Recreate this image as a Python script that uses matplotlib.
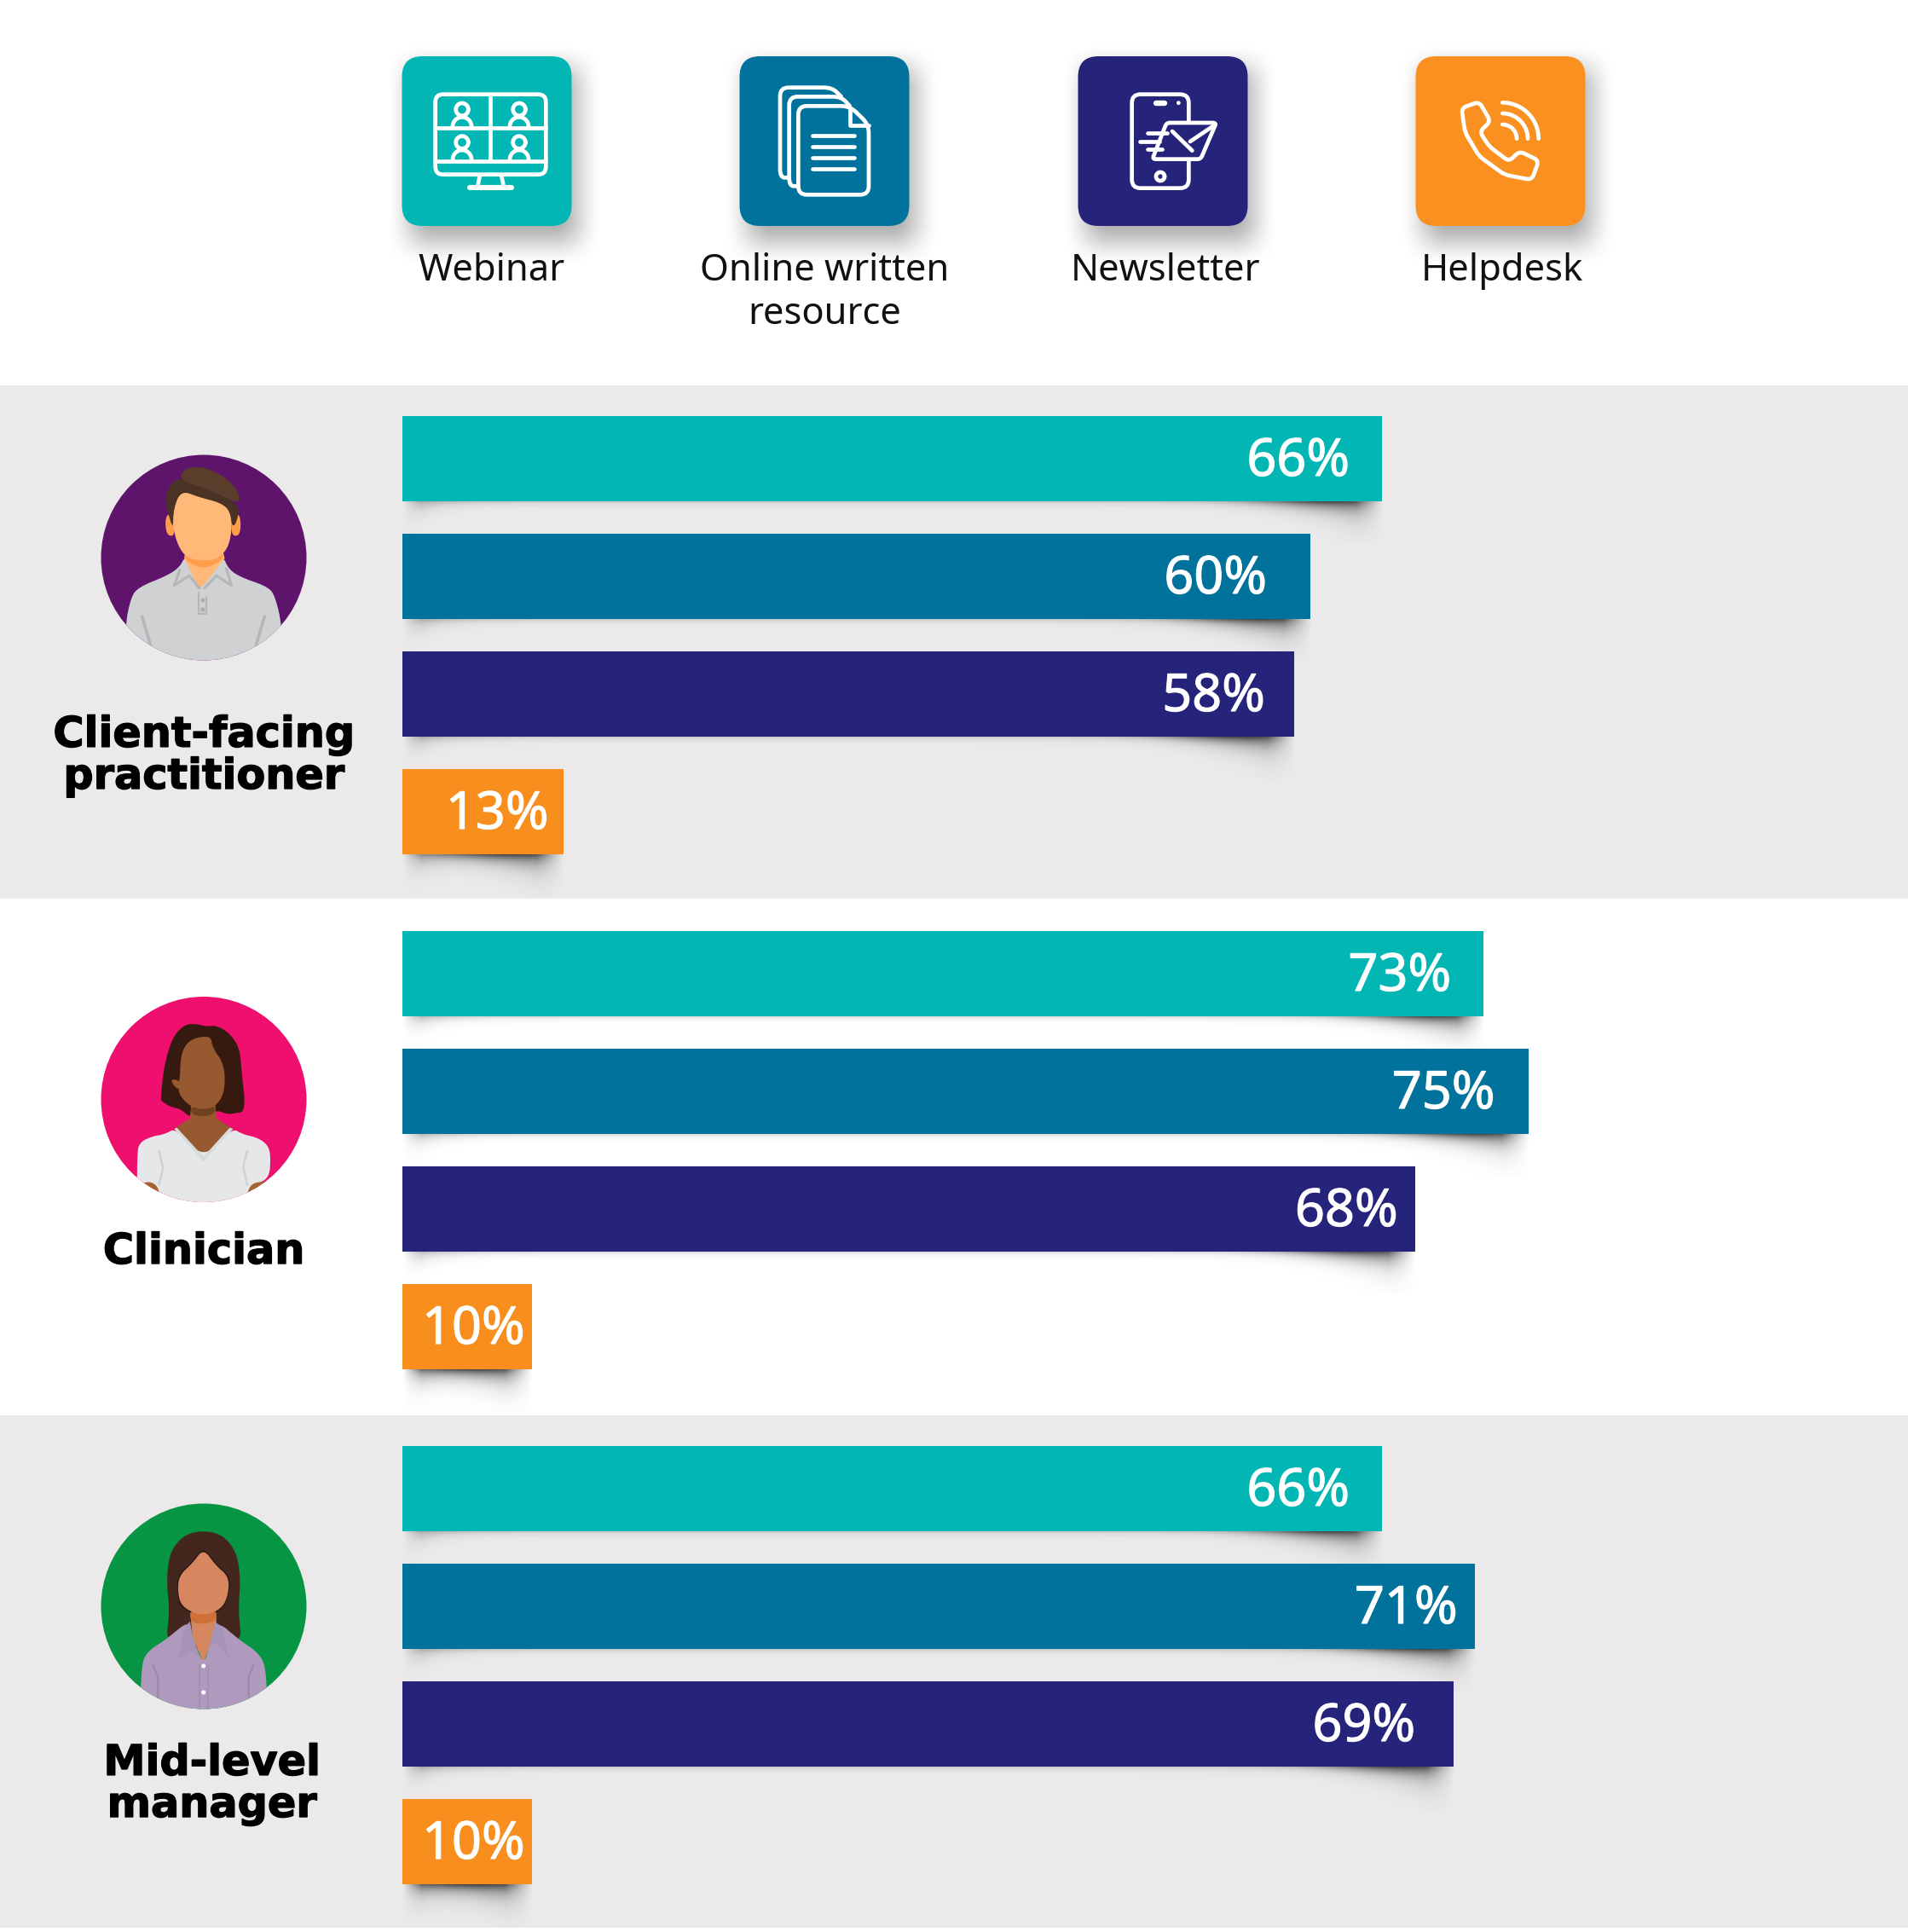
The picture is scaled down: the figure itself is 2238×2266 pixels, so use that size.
import numpy as np
import matplotlib
matplotlib.use("Agg")
import matplotlib.pyplot as plt
import matplotlib.patheffects as pe
from matplotlib.patches import Circle, FancyBboxPatch, Polygon, Ellipse
from matplotlib.path import Path
from matplotlib.patches import PathPatch

plt.rcParams['font.family'] = ['Noto Sans', 'DejaVu Sans']

# data
channels = ['Webinar', 'Online written\nresource', 'Newsletter', 'Helpdesk']
roles = ['Client-facing\npractitioner', 'Clinician', 'Mid-level\nmanager']
printed_client = [66, 60, 58, 13]
printed_clinician = [73, 75, 68, 10]
printed_manager = [66, 71, 69, 10]
# bar lengths as drawn; in the source they do not quite follow the printed numbers
bars_client = [65.7, 60.9, 59.8, 10.8]
bars_clinician = [72.5, 75.5, 67.9, 8.7]
bars_manager = [65.7, 71.9, 70.5, 8.7]

# layout, in pixels of the 2238x2266 picture
W, H = 2238, 2266
TEAL, BLUE, NAVY, ORANGE = '#02B6B4', '#01729B', '#25237A', '#F78E1E'
colors = [TEAL, BLUE, NAVY, ORANGE]
BAND = '#EBE9EA'
BAR_LEFT = 471.5
PX_PER_PCT = 17.5
BAR_STEP = 138
BAR_H = 100
panel_tops = [488, 1092, 1696]
pad_client = [38, 51, 34, 17]
pad_clinician = [38, 39, 20, 8]
pad_manager = [38, 20, 45, 8]
tile_lefts = [471.5, 867.5, 1264.5, 1660.5]
label_x = [576.5, 967, 1367, 1762]
LW = 3.4


def chaikin(pts, n=3):
    pts = np.asarray(pts, float)
    for _ in range(n):
        nxt = np.roll(pts, -1, axis=0)
        q = 0.75 * pts + 0.25 * nxt
        r = 0.25 * pts + 0.75 * nxt
        pts = np.stack([q, r], axis=1).reshape(-1, 2)
    return pts


def rounded(pts, r, closed=True):
    # polyline with corners cut by small quadratic curves
    pts = [np.array(p, float) for p in pts]
    n = len(pts)
    verts, codes = [], []
    rng = range(n) if closed else range(1, n - 1)
    if not closed:
        verts.append(pts[0]); codes.append(Path.MOVETO)
    for i in rng:
        p, a, b = pts[i], pts[i - 1], pts[(i + 1) % n]
        d1 = (a - p) / np.linalg.norm(a - p)
        d2 = (b - p) / np.linalg.norm(b - p)
        r1 = min(r, np.linalg.norm(a - p) / 2)
        r2 = min(r, np.linalg.norm(b - p) / 2)
        verts.append(p + d1 * r1)
        codes.append(Path.MOVETO if (closed and i == 0) else Path.LINETO)
        verts += [p, p + d2 * r2]
        codes += [Path.CURVE3, Path.CURVE3]
    if closed:
        verts.append(verts[0]); codes.append(Path.CLOSEPOLY)
    else:
        verts.append(pts[-1]); codes.append(Path.LINETO)
    return Path(verts, codes)


def soft_shadow(ax, x0, y0, x1, y1, blur, alpha):
    xs = np.arange(x0 - blur, x1 + blur)
    ys = np.arange(y0 - blur, y1 + blur)
    fx = np.clip((xs - x0) / blur + .5, 0, 1) * np.clip((x1 - xs) / blur + .5, 0, 1)
    fy = np.clip((ys - y0) / blur + .5, 0, 1) * np.clip((y1 - ys) / blur + .5, 0, 1)
    a = np.outer(fy * fy * (3 - 2 * fy), fx * fx * (3 - 2 * fx)) * alpha
    img = np.zeros(a.shape + (4,))
    img[..., 3] = a
    ax.imshow(img, extent=(xs[0], xs[-1], ys[-1], ys[0]), aspect='auto', zorder=2)


def lift_shadow(ax, x0, x1, y):
    # curled-corner shadow under a bar
    xs = np.arange(x0, x1)
    ys = np.arange(0, 50)
    X, Y = np.meshgrid(xs, ys)
    depth = 3 + 15 * np.exp(-(x1 - X) / 70) + 11 * np.exp(-(X - x0) / 30)
    strength = 0.14 + 0.55 * np.exp(-((x1 - X - 60) / 90) ** 2) + 0.22 * np.exp(-(X - x0) / 40)
    fade = np.clip((x1 - X) / 32, 0, 1) * np.clip((X - x0) / 22, 0, 1)
    img = np.zeros(X.shape + (4,))
    img[..., 3] = np.clip(strength * np.exp(-Y / depth) * fade, 0, 1)
    ax.imshow(img, extent=(x0, x1, y + 50, y), aspect='auto', zorder=2)


fig = plt.figure(figsize=(W / 100, H / 100), dpi=100, facecolor='white')
bg = fig.add_axes([0, 0, 1, 1])
bg.set_xlim(0, W)
bg.set_ylim(H, 0)
bg.axis('off')
bg.set_autoscale_on(False)

bg.fill_between([0, W], 452, 1054, color=BAND, lw=0, zorder=1)
bg.fill_between([0, W], 1660, 2261, color=BAND, lw=0, zorder=1)

# header tiles
tile_colors = [TEAL, BLUE, NAVY, '#FA9020']
for x, c, name, lx in zip(tile_lefts, tile_colors, channels, label_x):
    soft_shadow(bg, x + 8, 78, x + 199 + 8, 265 + 20, 58, 0.33)
    bg.add_patch(FancyBboxPatch((x, 66), 199, 199, boxstyle='round,pad=0,rounding_size=24',
                                fc=c, ec='none', zorder=3))
    base = 329 if '\n' not in name else 380
    bg.text(lx, base, name, ha='center', va='baseline', fontsize=31.3, color='#111111',
            linespacing=1.21, zorder=5)


def zx(ox, oy):
    return lambda pts: [(ox + p[0] / 3, oy + p[1] / 3) for p in pts]


def stroke(path_or_pts, conv=None, lw=LW):
    if conv is not None:
        p = np.array(conv(path_or_pts))
        bg.plot(p[:, 0], p[:, 1], color='white', lw=lw, solid_capstyle='round',
                solid_joinstyle='round', zorder=6)
    else:
        bg.add_patch(PathPatch(path_or_pts, fc='none', ec='white', lw=lw, joinstyle='round',
                               capstyle='round', zorder=6))


# webinar icon
c1 = zx(460, 60)
stroke(rounded(c1([(152, 152), (541, 152), (541, 434), (152, 434)]), 9))
stroke([(152, 270), (541, 270)], c1)
stroke([(152, 388), (541, 388)], c1)
stroke([(346, 152), (346, 388)], c1)
stroke([(308, 440), (300, 480)], c1)
stroke([(385, 440), (393, 480)], c1)
stroke([(272, 480), (420, 480)], c1, lw=4.4)
t = np.linspace(0, 2 * np.pi, 50)
for hx, hy in [(246, 205), (447, 205), (246, 321), (447, 321)]:
    stroke(list(zip(hx + 22 * np.cos(t), hy + 22 * np.sin(t))), c1)
    s = np.linspace(np.pi, 2 * np.pi, 30)
    stroke(list(zip(hx + 33 * np.cos(s), hy + 60 + 33 * np.sin(s))), c1)

# document icon
c2 = zx(860, 60)
stroke(rounded(c2([(410, 193), (229, 193), (229, 505), (477, 505), (477, 258)]), 10))
stroke([(410, 200), (410, 260), (477, 260)], c2)
for yy in [297, 336, 375, 414]:
    stroke([(280, yy), (427, yy)], c2)
stroke(rounded(c2([(410, 193), (380, 160), (197, 160), (197, 475), (229, 475)]), 10, closed=False))
stroke(rounded(c2([(380, 160), (348, 128), (165, 128), (165, 445), (197, 445)]), 10, closed=False))

# newsletter icon
c3 = zx(1260, 60)
stroke(rounded(c3([(203, 152), (403, 152), (403, 482), (203, 482)]), 10))
env = c3([(325, 252), (500, 252), (445, 380), (275, 380)])
bg.add_patch(PathPatch(rounded(env, 4), fc=NAVY, ec='white', lw=LW, joinstyle='round', zorder=6))
stroke([(345, 282), (415, 350)], c3)
stroke([(408, 318), (497, 258)], c3)
stroke([(258, 288), (328, 288)], c3)
stroke([(230, 317), (300, 317)], c3)
stroke([(258, 345), (308, 345)], c3)
stroke([(288, 182), (318, 182)], c3, lw=4.6)
bg.add_patch(Circle(c3([(367, 182)])[0], 2.4, fc='white', ec='none', zorder=6))
stroke(list(zip(303 + 15 * np.cos(t), 441 + 15 * np.sin(t))), c3)

# phone icon
c4 = zx(1655, 60)
stroke(rounded(c4([(178, 200), (240, 178), (280, 247), (242, 283), (275, 335), (345, 388), (382, 352),
                   (450, 385), (425, 453), (330, 435), (240, 370), (190, 285)]), 6))
s = np.linspace(-np.pi / 2, 0, 30)
for rad in [127, 89, 50]:
    stroke(list(zip(322 + rad * np.cos(s), 308 + rad * np.sin(s))), c4)


# portraits, outlines
def portrait(cy, y0, color, shapes):
    circ = Circle((239, cy), 120.5, fc=color, ec='none', zorder=3)
    bg.add_patch(circ)
    for kind, pts, col in shapes:
        p = [(60 + a / 2.53, y0 + b / 3) for a, b in pts]
        if kind == 'fill':
            art = Polygon(chaikin(p), closed=True, fc=col, ec='none', zorder=4)
            bg.add_patch(art)
        elif kind == 'sharp':
            art = Polygon(p, closed=True, fc=col, ec='none', zorder=4)
            bg.add_patch(art)
        else:
            p = np.array(p)
            art = bg.plot(p[:, 0], p[:, 1], color=col, lw=kind, zorder=4, solid_capstyle='round')[0]
        art.set_clip_path(circ)


SK1, SH1 = '#FFB878', '#FF9E4A'
portrait(654, 500, '#5F146C', [
    ('fill', [(220, 900), (220, 700), (235, 610), (255, 568), (345, 525), (382, 495), (398, 455), (510, 455),
              (525, 500), (560, 530), (645, 565), (665, 600), (685, 700), (690, 900)], '#CFD1D3'),
    ('sharp', [(398, 440), (510, 440), (515, 465), (455, 555), (440, 572), (395, 465)], SK1),
    ('fill', [(398, 440), (510, 440), (510, 470), (452, 505), (395, 470)], SH1),
    ('fill', [(343, 310), (362, 310), (368, 385), (345, 385), (338, 345)], SH1),
    ('fill', [(540, 310), (562, 310), (562, 385), (533, 385)], SH1),
    ('fill', [(385, 215), (440, 245), (500, 262), (534, 295), (537, 360), (525, 430), (490, 470), (450, 472),
              (405, 465), (378, 425), (362, 360), (362, 290)], SK1),
    ('fill', [(378, 180), (350, 210), (338, 260), (348, 310), (362, 362), (362, 295), (385, 225), (440, 250),
              (500, 268), (530, 295), (537, 355), (550, 340), (562, 270), (420, 200)], '#4A3224'),
    ('fill', [(378, 190), (395, 150), (440, 140), (500, 165), (550, 215), (565, 280), (470, 222)], '#5B3D2B'),
    (2.2, [(382, 505), (365, 560), (410, 525), (440, 570)], '#B4B6B8'),
    (2.2, [(520, 500), (535, 560), (490, 525), (455, 570)], '#B4B6B8'),
    (1.6, [(437, 585), (437, 660), (460, 660), (460, 600)], '#B4B6B8'),
    (2.6, [(270, 670), (296, 775)], '#B4B6B8'),
    (2.6, [(633, 670), (607, 775)], '#B4B6B8'),
])
for by in [612, 645]:
    bg.add_patch(Ellipse((60 + 450 / 2.53, 500 + by / 3), 5, 5, fc='#A9ABAD', zorder=4))

SK2 = '#97592F'
portrait(1289.5, 1140, '#EE0F6E', [
    ('sharp', [(262, 735), (322, 745), (322, 790), (262, 760)], '#A5632F'),
    ('sharp', [(582, 745), (640, 735), (640, 760), (582, 790)], '#A5632F'),
    ('fill', [(325, 445), (335, 330), (360, 230), (395, 185), (430, 182), (460, 192), (490, 188), (530, 215),
              (560, 270), (565, 350), (578, 490), (545, 498), (520, 500), (490, 485), (415, 515), (385, 482),
              (355, 475), (328, 455)], '#36190F'),
    ('sharp', [(415, 470), (488, 470), (490, 515), (540, 552), (452, 665), (365, 552), (412, 515)], SK2),
    ('fill', [(415, 470), (488, 470), (488, 498), (450, 510), (415, 500)], '#70431F'),
    ('fill', [(385, 290), (405, 245), (440, 228), (475, 228), (478, 265), (514, 325), (516, 420), (490, 472),
              (450, 485), (410, 472), (375, 425), (382, 370)], SK2),
    ('fill', [(350, 376), (385, 382), (378, 420)], SK2),
    ('fill', [(255, 850), (255, 640), (262, 600), (300, 578), (335, 572), (372, 548), (452, 662), (535, 548),
              (570, 572), (610, 582), (640, 605), (652, 640), (647, 735), (582, 745), (582, 850), (322, 850),
              (322, 745), (262, 735)], '#E6E7E8'),
    ('sharp', [(365, 552), (373, 548), (452, 650), (530, 548), (540, 552), (452, 668)], '#D8DBDC'),
    (2, [(320, 630), (332, 690), (320, 750)], '#D1D3D4'),
    (2, [(582, 630), (570, 685), (582, 750)], '#D1D3D4'),
])

SK3, PUR = '#D6875F', '#AF9ABE'
portrait(1884, 1740, '#069543', [
    ('fill', [(338, 580), (352, 450), (342, 340), (352, 240), (395, 180), (450, 165), (510, 180), (552, 245),
              (562, 340), (555, 450), (568, 580)], '#43271F'),
    ('fill', [(452, 220), (415, 280), (375, 320), (373, 395), (385, 440), (450, 470), (510, 445), (528, 395),
              (532, 325), (490, 285)], '#2D1A15'),
    ('sharp', [(413, 455), (490, 455), (490, 490), (470, 575), (452, 630), (420, 545)], SK3),
    ('fill', [(413, 440), (490, 440), (490, 485), (450, 495), (413, 488)], '#CF6F39'),
    ('fill', [(452, 228), (420, 280), (378, 325), (376, 395), (392, 438), (450, 467), (505, 442), (525, 395),
              (528, 328), (488, 288)], SK3),
    ('fill', [(266, 880), (266, 645), (285, 590), (340, 550), (412, 478), (420, 545), (452, 640), (470, 575),
              (488, 478), (560, 552), (610, 590), (640, 645), (640, 880)], PUR),
    ('sharp', [(397, 505), (378, 615), (415, 590), (440, 608), (420, 545), (412, 485)], '#A593B8'),
    ('sharp', [(508, 505), (528, 615), (490, 560), (470, 575), (462, 605), (488, 488)], '#A593B8'),
    (1.8, [(302, 640), (317, 680), (317, 760)], '#9A8AAE'),
    (1.8, [(600, 640), (586, 680), (586, 760)], '#9A8AAE'),
    (1.2, [(439, 640), (439, 800)], '#A08FB5'),
    (1.2, [(466, 640), (466, 800)], '#A08FB5'),
])
for by in [642, 735]:
    bg.add_patch(Ellipse((60 + 452 / 2.53, 1740 + by / 3), 5, 5, fc='white', zorder=5))

# role names, y is the baseline of the last line
for name, x, y in zip(roles, [239, 239, 248.5], [925, 1482, 2131]):
    bg.text(x, y, name, ha='center', va='baseline', fontsize=35.5, fontweight='bold', color='black',
            family=['DejaVu Sans'], linespacing=1.03, zorder=5,
            path_effects=[pe.withStroke(linewidth=1.0, foreground='black')])

# bars
for top, vals, printed, pads in zip(panel_tops,
                                    [bars_client, bars_clinician, bars_manager],
                                    [printed_client, printed_clinician, printed_manager],
                                    [pad_client, pad_clinician, pad_manager]):
    for i, v in enumerate(vals):
        lift_shadow(bg, BAR_LEFT, BAR_LEFT + v * PX_PER_PCT, top + i * BAR_STEP + BAR_H)
    ax_top = top + BAR_H / 2 - BAR_STEP / 2
    ax = fig.add_axes([BAR_LEFT / W, 1 - (ax_top + 4 * BAR_STEP) / H, 1 - BAR_LEFT / W, 4 * BAR_STEP / H])
    ax.patch.set_alpha(0)
    ax.barh(range(4), vals, height=BAR_H / BAR_STEP, color=colors)
    ax.set_xlim(0, (W - BAR_LEFT) / PX_PER_PCT)
    ax.set_ylim(3.5, -0.5)
    ax.axis('off')
    for i, v in enumerate(vals):
        ax.annotate(f'{printed[i]}%', (v, i), xytext=(-pads[i] * 0.72, -20 * 0.72),
                    textcoords='offset points', ha='right', va='baseline', fontsize=44, color='white',
                    path_effects=[pe.withStroke(linewidth=0.8, foreground='white')])

fig.savefig('out.png', dpi=100, facecolor='white')
